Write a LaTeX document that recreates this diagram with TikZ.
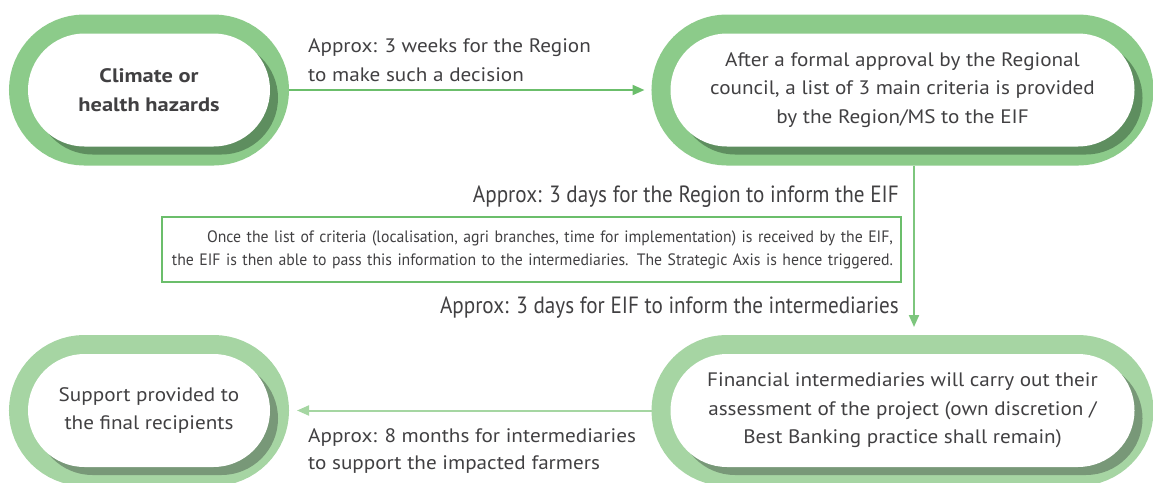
\documentclass[tikz,border=0pt]{standalone}
\usepackage{fontspec}
\setmainfont{PT Sans}[FakeStretch=1.085, BoldFeatures={FakeStretch=1.15}]
\newfontfamily\delayfont{PT Sans}[FakeStretch=0.9]
\newfontfamily\notefont{PT Sans}[FakeStretch=0.955]
\usetikzlibrary{arrows.meta}
\definecolor{Ring}{HTML}{8CCB8A}
\definecolor{RingShade}{HTML}{5E8E5F}
\definecolor{RingPale}{HTML}{A6D5A3}
\definecolor{RingPaleShade}{HTML}{789878}
\definecolor{Flow}{HTML}{6BBE6B}
\definecolor{FlowMid}{HTML}{7DC67D}
\definecolor{FlowPale}{HTML}{A5D6A2}
\definecolor{Ink}{HTML}{414042}

\begin{document}
\begin{tikzpicture}[x=1pt, y=-1pt,
    every node/.style={text=Ink, font=\fontsize{19.5}{28.5}\selectfont},
    pill/.style 2 args={rectangle, rounded corners=56.5pt, minimum height=113pt,
      inner sep=0pt, outer sep=19pt, align=center,
      preaction={draw=#1, line width=38pt},
      preaction={fill=#2, transform canvas={xshift=8pt, yshift=-8pt}},
      fill=white},
    flow/.style={line width=2pt, -{Triangle[length=12pt, width=10pt]}},
    delay/.style={inner sep=0pt, anchor=base east, font=\delayfont\fontsize{23.5}{28}\selectfont}]
  \useasboundingbox (0,0) rectangle (1153,482);
  % top row
  \node[pill={Ring}{RingShade}, minimum width=242pt,
    font=\bfseries\fontsize{19.5}{28.5}\selectfont] (hazard) at (149,90) {Climate or\\health hazards};
  \node[pill={Ring}{RingShade}, minimum width=464pt] (council) at (902.5,90)
    {After a formal approval by the Regional\\council, a list of 3 main criteria is provided\\by the Region/MS to the EIF};
  \node[anchor=west, align=left, inner sep=0pt, font=\fontsize{19.5}{29.5}\selectfont] (weeks) at (308,60)
    {Approx: 3 weeks for the Region\\to make such a decision};
  \draw[flow, Flow, shorten >=7pt] (hazard.east) -- (council.west);
  % middle part
  \node[delay] (inform) at (899,202) {Approx: 3 days for the Region to inform the EIF};
  \node[draw=Flow, line width=2.5pt, minimum height=65pt, inner xsep=8pt,
    text width=723pt, align=right, font=\notefont\fontsize{16.5}{23}\selectfont] (info) at (531.5,249.5)
    {Once the list of criteria (localisation, agri branches, time for implementation) is received by the EIF,\\the EIF is then able to pass this information to the intermediaries. The Strategic Axis is hence triggered.};
  \node[delay] (pass) at (899,313) {Approx: 3 days for EIF to inform the intermediaries};
  % bottom row
  \node[pill={RingPale}{RingPaleShade}, minimum width=242pt] (support) at (149,410.5)
    {Support provided to\\the final recipients};
  \node[pill={RingPale}{RingPaleShade}, minimum width=464pt] (assess) at (902.5,410.5)
    {Financial intermediaries will carry out their\\assessment of the project (own discretion /\\Best Banking practice shall remain)};
  \node[anchor=west, align=left, inner sep=0pt, font=\fontsize{19.5}{27.5}\selectfont] (months) at (308,451)
    {Approx: 8 months for intermediaries\\to support the impacted farmers};
  \draw[flow, FlowMid, shorten >=8pt] ([xshift=11.5pt]council.south) -- ([xshift=11.5pt]assess.north);
  \draw[flow, FlowPale, shorten >=8pt] (assess.west) -- (support.east);
\end{tikzpicture}
\end{document}
